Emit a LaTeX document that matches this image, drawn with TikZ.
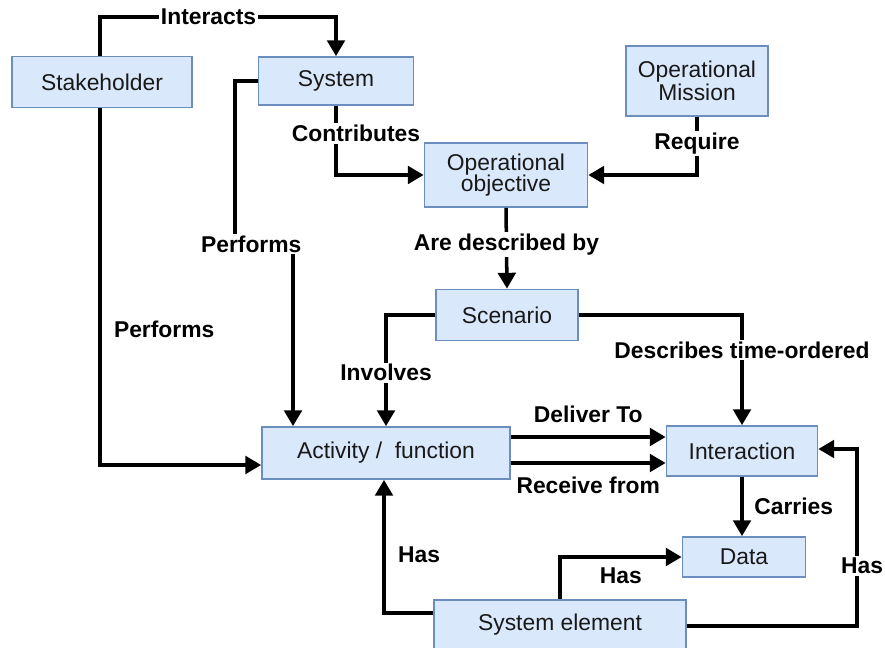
\documentclass[tikz,border=0pt]{standalone}
\usepackage{fontspec}
\setmainfont{Liberation Sans}
\usetikzlibrary{arrows.meta}
\definecolor{boxfill}{HTML}{DAE8FC}
\definecolor{boxline}{HTML}{6C8EBF}
\begin{document}
\begin{tikzpicture}[x=0.02cm,y=-0.02cm,
	box/.style={draw=boxline,fill=boxfill,line width=1pt,inner sep=0pt,align=center,text=black!90,font=\fontsize{13}{12}\selectfont},
	arr/.style={line width=2pt,-{Triangle[length=9pt,width=10pt]}},
	lbl/.style={fill=white,inner sep=1pt,font=\fontsize{13}{15}\selectfont\bfseries}]
		\useasboundingbox (0,0) rectangle (885,648);
		
		\node [box,minimum width=3.6cm,minimum height=1.02cm] (stakeholder) at (102,82) {Stakeholder};
		\node [box,minimum width=3.1cm,minimum height=0.96cm] (system) at (336,81) {System};
		\node [box,minimum width=2.84cm,minimum height=1.4cm] (mission) at (697,81) {Operational\\Mission};
		\node [box,minimum width=3.26cm,minimum height=1.28cm] (objective) at (506,175) {Operational\\[-1pt]objective};
		\node [box,minimum width=2.84cm,minimum height=1.02cm] (scenario) at (507,315) {Scenario};
		\node [box,minimum width=4.96cm,minimum height=1.04cm] (activity) at (386,453) {Activity /\ \ function};
		\node [box,minimum width=3.02cm,minimum height=1.0cm] (interaction) at (742,451) {Interaction};
		\node [box,minimum width=2.46cm,minimum height=0.8cm] (data) at (744,557) {Data};
		\node [box,minimum width=5.04cm,minimum height=1.0cm] (element) at (560,625) {System element};
		
		\draw [arr] (stakeholder.north -| 100,0) |- node [lbl,pos=0.73] {Interacts} (336,17) -- (system.north);
		\draw [arr] (system.west) -| (235,244) -- node [lbl,pos=0.28] {Performs} (293,244) -- (activity.north -| 293,0);
		\draw [arr] (stakeholder.south -| 100,0) |- node [lbl,fill=none,right=6pt,pos=0.31] {Performs} (activity.west |- 0,465);
		\draw [arr] (system.south) |- node [lbl,pos=0.2,xshift=0.4cm] {Contributes} (objective.west);
		\draw [arr] (mission.south) |- node [lbl,pos=0.23] {Require} (objective.east);
		\draw [arr] (objective.south) -- node [lbl,pos=0.45] {Are described by} (scenario.north);
		\draw [arr] (scenario.west) -| node [lbl,pos=0.76] {Involves} (activity.north);
		\draw [arr] (scenario.east) -| node [lbl,pos=0.66] {Describes time-ordered} (interaction.north);
		\draw [arr] (activity.east |- 0,437) -- node [lbl,fill=none,above=6pt] {Deliver To} (interaction.west |- 0,437);
		\draw [arr] (activity.east |- 0,463) -- node [lbl,fill=none,below=6pt] {Receive from} (interaction.west |- 0,463);
		\draw [arr] (interaction.south) -- node [lbl,fill=none,right=5pt] {Carries} (data.north -| interaction.south);
		\draw [arr] (element.west |- 0,613) -| node [lbl,fill=none,right=6pt,pos=0.72] {Has} (activity.south -| 384,0);
		\draw [arr] (element.north -| 560,0) |- node [lbl,fill=none,below=4pt,pos=0.75] {Has} (data.west);
		\draw [arr] (element.east |- 0,626) -| node [lbl,pos=0.67,xshift=0.1cm] {Has} (857,449) -- (interaction.east |- 0,449);
	\end{tikzpicture}
\end{document}
